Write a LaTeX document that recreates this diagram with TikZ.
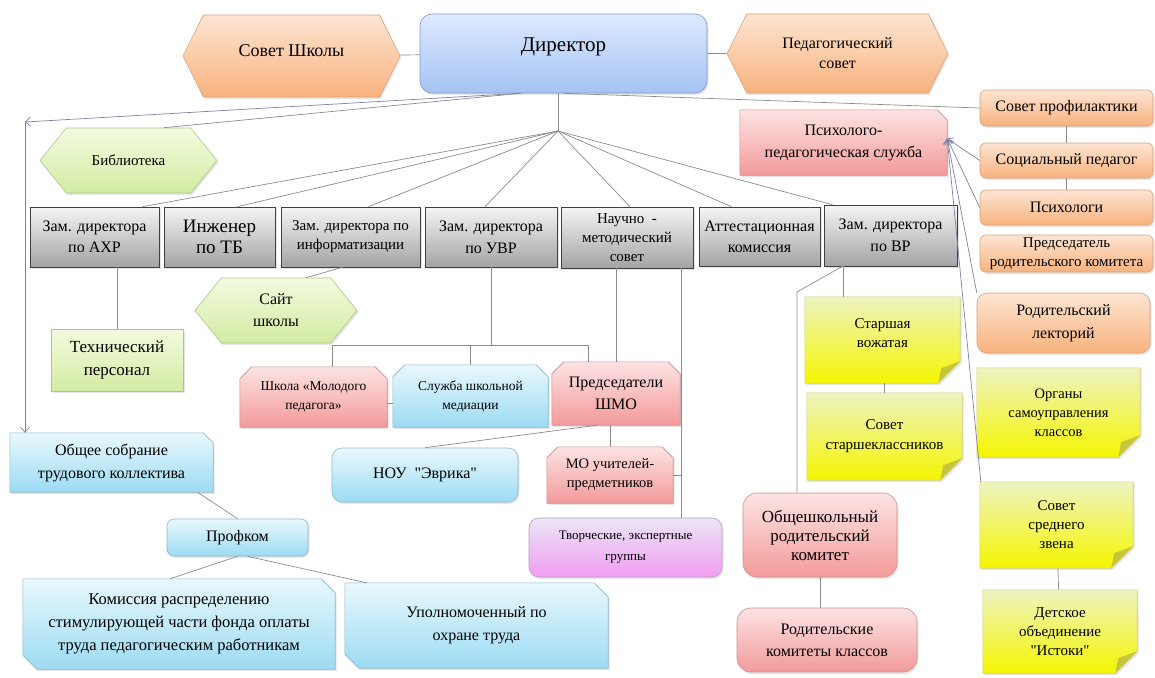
\documentclass[tikz,border=0pt]{standalone}
\usepackage{fontspec}
\setmainfont{Liberation Serif}[Ligatures=TeXOff]
\usetikzlibrary{arrows.meta,calc,shapes.symbols,shadows}
\pgfdeclarelayer{bg}
\pgfsetlayers{bg,main}
\definecolor{orTop}{HTML}{FDE5D2}\definecolor{orBot}{HTML}{F8B27E}\definecolor{orLine}{HTML}{D9A27A}
\definecolor{pkTop}{HTML}{FDE3E3}\definecolor{pkBot}{HTML}{F39A9A}\definecolor{pkLine}{HTML}{C99090}
\definecolor{blTop}{HTML}{E9F8FD}\definecolor{blBot}{HTML}{9CDBF3}\definecolor{blLine}{HTML}{8FB8C8}
\definecolor{grTop}{HTML}{F4FADF}\definecolor{grBot}{HTML}{D2ECA2}\definecolor{grLine}{HTML}{A9C78C}
\definecolor{ylTop}{HTML}{EEF4C2}\definecolor{ylBot}{HTML}{F5F500}\definecolor{ylLine}{HTML}{D2D27A}\definecolor{ylFold}{HTML}{C6C63A}
\definecolor{drTop}{HTML}{DDE9FE}\definecolor{drBot}{HTML}{A5C3F4}\definecolor{drLine}{HTML}{7C9BC6}
\definecolor{vtTop}{HTML}{EAE6F6}\definecolor{vtBot}{HTML}{F19DF2}\definecolor{vtLine}{HTML}{B49CC0}
\newcommand{\fsz}[2]{\fontsize{#1}{#2}\selectfont}
\newcommand{\upby}[2]{\raisebox{#1}[\height][\depth]{#2}}
\newcommand{\cutshape}[6]{\begin{pgfonlayer}{bg}\path[#6] ($(#1.north west)+(#2,0)$) -- ($(#1.north east)+(-#3,0)$) -- ($(#1.north east)+(0,#3)$) -- ($(#1.south east)+(0,-#4)$) -- ($(#1.south east)+(-#4,0)$) -- ($(#1.south west)+(#5,0)$) -- ($(#1.south west)+(0,-#5)$) -- ($(#1.north west)+(0,#2)$) -- cycle;\end{pgfonlayer}}
\newcommand{\foldcorner}[1]{\fill[ylFold] ($(#1.south east)+(0,-22)$) -- ($(#1.south east)+(-22,0)$) -- ($(#1.south east)+(-19,-15)$) -- cycle;}

\begin{document}
\begin{tikzpicture}[x=1pt,y=-1pt,
	line/.style={draw=black!45,line width=0.7pt},
	arr/.style={line,draw=blue!30!black!50,arrows={-Straight Barb[length=5pt,width=9pt]}},
	shad/.style={line width=0.6pt,drop shadow={opacity=0.2,shadow xshift=1.5pt,shadow yshift=-2pt}},
	bx/.style={shad,align=center,inner sep=1pt},
	txt/.style={rectangle,align=center,inner sep=1pt},
	greybox/.style={bx,rectangle,draw=black!75,top color=black!4,bottom color=black!36},
	dirbox/.style={bx,rectangle,rounded corners=12pt,draw=drLine,top color=drTop,bottom color=drBot},
	orhex/.style={bx,signal,signal to=east and west,signal pointer angle=127,draw=orLine,top color=orTop,bottom color=orBot},
	orbox/.style={bx,rectangle,rounded corners=6pt,draw=orLine,top color=orTop,bottom color=orBot},
	grhex/.style={bx,signal,signal to=east and west,signal pointer angle=102,draw=grLine,top color=grTop,bottom color=grBot},
	grbox/.style={bx,rectangle,draw=grLine,top color=grTop,bottom color=grBot},
	pkbox/.style={bx,rectangle,rounded corners=14pt,draw=pkLine,top color=pkTop,bottom color=pkBot},
	blbox/.style={bx,rectangle,rounded corners=10pt,draw=blLine,top color=blTop,bottom color=blBot},
	vtbox/.style={bx,rectangle,rounded corners=10pt,draw=vtLine,top color=vtTop,bottom color=vtBot},
	pkfill/.style={shad,draw=pkLine,top color=pkTop,bottom color=pkBot},
	blfill/.style={shad,draw=blLine,top color=blTop,bottom color=blBot},
	ylfill/.style={shad,draw=ylLine,top color=ylTop,bottom color=ylBot}]
	\useasboundingbox (0,0) rectangle (1155,677);

	\node[orhex,minimum width=217pt,minimum height=82pt,font=\fsz{18}{22}] (sovet) at (291.5,56) {\upby{5pt}{Совет Школы}};
	\node[dirbox,minimum width=287pt,minimum height=79pt,font=\fsz{21}{24}] (dir) at (563.5,53.5) {\upby{7pt}{Директор}};
	\node[orhex,minimum width=221pt,minimum height=79pt,font=\fsz{16}{20}] (pedsovet) at (837.5,53.5) {Педагогический\\совет};

	\node[grhex,minimum width=177pt,minimum height=65pt,font=\fsz{15}{18}] (biblio) at (128.5,160.5) {Библиотека};
	\node[txt,minimum width=207pt,minimum height=65pt,font=\fsz{16}{22}] (pps) at (843.5,142.5) {Психолого-\\педагогическая служба};
	\cutshape{pps}{0}{10}{0}{0}{pkfill}

	\node[orbox,minimum width=173pt,minimum height=36pt,font=\fsz{16}{19}] (profil) at (1066.5,108) {Совет профилактики};
	\node[orbox,minimum width=173pt,minimum height=35pt,font=\fsz{16}{19}] (socped) at (1066.5,160.5) {Социальный педагог};
	\node[orbox,minimum width=173pt,minimum height=35pt,font=\fsz{16}{19}] (psych) at (1066.5,207.5) {Психологи};
	\node[orbox,minimum width=173pt,minimum height=37pt,font=\fsz{15}{19}] (predrk) at (1066.5,253.5) {Председатель\\родительского комитета};
	\node[orbox,rounded corners=10pt,minimum width=173pt,minimum height=60pt,font=\fsz{16}{23}] (lekt) at (1063.5,323) {Родительский\\лекторий};

	\node[greybox,minimum width=129pt,minimum height=60pt,font=\fsz{16}{21}] (ahr) at (94.5,237) {Зам. директора\\по АХР};
	\node[greybox,minimum width=111pt,minimum height=60pt,font=\fsz{19}{21}] (ing) at (219.5,237) {Инженер\\по ТБ};
	\node[greybox,minimum width=139pt,minimum height=60pt,font=\fsz{15}{19}] (inform) at (350.5,237) {Зам. директора по\\информатизации};
	\node[greybox,minimum width=132pt,minimum height=60pt,font=\fsz{16}{22}] (uvr) at (491,237) {Зам. директора\\по УВР};
	\node[greybox,minimum width=132pt,minimum height=61pt,font=\fsz{15}{19}] (nms) at (627,237.5) {Научно \ -\\методический\\совет};
	\node[greybox,minimum width=121pt,minimum height=59pt,font=\fsz{16}{21}] (attest) at (759.5,236.5) {Аттестационная\\комиссия};
	\node[greybox,minimum width=133pt,minimum height=61pt,font=\fsz{16}{22}] (vr) at (890.5,235.5) {Зам. директора\\по ВР};

	\node[grhex,minimum width=162pt,minimum height=65pt,font=\fsz{16}{22}] (sait) at (276,310.5) {Сайт\\школы};
	\node[grbox,minimum width=132pt,minimum height=62pt,font=\fsz{17}{23}] (tech) at (117,360) {Технический\\персонал};

	\node[txt,minimum width=147pt,minimum height=60pt,font=\fsz{13.5}{19}] (shmp) at (313.5,397) {Школа «Молодого\\педагога»};
	\cutshape{shmp}{12}{12}{0}{0}{pkfill}
	\node[txt,minimum width=155pt,minimum height=62pt,font=\fsz{13.5}{19}] (media) at (470.5,396) {Служба школьной\\медиации};
	\cutshape{media}{12}{12}{0}{0}{blfill}
	\node[txt,minimum width=128pt,minimum height=63pt,font=\fsz{16}{22}] (predshmo) at (616,393.5) {Председатели\\ШМО};
	\cutshape{predshmo}{12}{12}{0}{0}{pkfill}
	\node[blbox,minimum width=186pt,minimum height=54pt,font=\fsz{16}{19}] (nou) at (425,475) {НОУ \ "Эврика"};
	\node[txt,minimum width=126pt,minimum height=56pt,font=\fsz{14.5}{19}] (mo) at (610,475) {МО учителей-\\предметников};
	\cutshape{mo}{11}{11}{0}{0}{pkfill}
	\node[vtbox,minimum width=193pt,minimum height=59pt,font=\fsz{13}{21}] (tvor) at (625.5,547.5) {Творческие, экспертные\\группы};

	\node[txt,minimum width=203pt,minimum height=59pt,font=\fsz{16}{23}] (obsch) at (111.5,462.5) {Общее собрание\\трудового коллектива};
	\cutshape{obsch}{0}{10}{0}{0}{blfill}
	\node[blbox,rounded corners=7pt,minimum width=141pt,minimum height=37pt,font=\fsz{16}{19}] (profkom) at (237.5,537.5) {Профком};
	\node[txt,minimum width=312pt,minimum height=90pt,font=\fsz{16.5}{23}] (komis) at (179,624) {Комиссия распределению\\стимулирующей части фонда оплаты\\труда педагогическим работникам};
	\cutshape{komis}{0}{14}{0}{14}{blfill}
	\node[txt,minimum width=263pt,minimum height=85pt,font=\fsz{16}{23}] (upoln) at (476.5,625.5) {Уполномоченный по\\охране труда};
	\cutshape{upoln}{0}{14}{0}{14}{blfill}

	\node[txt,minimum width=155pt,minimum height=86pt,font=\fsz{15}{19}] (stvozh) at (882.5,340) {Старшая\\вожатая\\[-6pt]};
	\cutshape{stvozh}{0}{0}{22}{0}{ylfill}
	\node[txt,minimum width=155pt,minimum height=87pt,font=\fsz{15}{20}] (sovst) at (884.5,436.5) {Совет\\старшеклассников};
	\cutshape{sovst}{0}{0}{22}{0}{ylfill}
	\node[pkbox,minimum width=154pt,minimum height=84pt,font=\fsz{17}{19}] (obshrk) at (820,535) {Общешкольный\\родительский\\комитет};
	\node[pkbox,minimum width=180pt,minimum height=64pt,font=\fsz{16}{22}] (rodk) at (827,640) {Родительские\\комитеты классов};
	\node[txt,minimum width=163pt,minimum height=89pt,font=\fsz{14.5}{19}] (organy) at (1058.5,412.5) {Органы\\самоуправления\\классов};
	\cutshape{organy}{0}{0}{22}{0}{ylfill}
	\node[txt,minimum width=153pt,minimum height=86pt,font=\fsz{15}{19}] (sovsr) at (1056.5,525) {Совет\\среднего\\звена};
	\cutshape{sovsr}{0}{0}{22}{0}{ylfill}
	\node[txt,minimum width=154pt,minimum height=83pt,font=\fsz{15}{19}] (detsk) at (1060,631.5) {Детское\\объединение\\"Истоки"};
	\cutshape{detsk}{0}{0}{22}{0}{ylfill}

	\foldcorner{stvozh}
	\foldcorner{sovst}
	\foldcorner{organy}
	\foldcorner{sovsr}
	\foldcorner{detsk}

	\coordinate (hub) at (558,131);
	\coordinate (lcorner) at (25,122);
	\coordinate (brl) at (332,345);
	\coordinate (brr) at (588,345);
	\coordinate (nmsr) at (681,268);
	\coordinate (vrs) at (843,266);
	\coordinate (vrbend) at (797,292);

	\draw[line] (sovet) to (dir);
	\draw[line] (dir) to (pedsovet);
	\draw[line] (hub |- dir.south) to (hub);
	\draw[line] (dir.south) to (profil.west);
	\draw[arr] ($(dir.south)+(-43,0)$) to (lcorner);
	\draw[arr] (lcorner) to (lcorner |- obsch.north);
	\draw[line] ($(dir.south)+(-43,0)$) to ($(biblio.north east)+(-27,0)$);

	\draw[line] (hub) to ($(ahr.north)+(48,0)$);
	\draw[line] (hub) to ($(ing.north)+(18,0)$);
	\draw[line] (hub) to ($(inform.north)+(18,0)$);
	\draw[line] (hub) to ($(uvr.north)+(-6,0)$);
	\draw[line] (hub) to ($(nms.north)+(3,0)$);
	\draw[line] (hub) to ($(attest.north)+(-28,0)$);
	\draw[line] (hub) to ($(vr.north)+(-58,0)$);

	\draw[line] (profil) to (socped);
	\draw[line] (socped) to (psych);
	\draw[arr] (socped.west) to ($(pps.east)+(0,-4)$);
	\draw[arr] (psych.west) to ($(pps.east)+(0,-4)$);
	\draw[arr] (lekt.north west) to ($(pps.east)+(0,-4)$);
	\draw[arr] ($(sovsr.north west)+(1,0)$) to ($(pps.east)+(0,-4)$);
	\draw[line] ($(pps.south)+(20,0)$) to ($(pps.south)+(20,0)$ |- vr.north);

	\draw[line] (tech.north |- ahr.south) to (tech.north);
	\draw[line] ($(inform.south)+(-8,0)$) to ($(sait.north east)+(-25,0)$);

	\draw[line] (uvr.south) to (uvr.south |- brl);
	\draw[line] (brl |- shmp.north) to (brl) to (brr) to (brr |- predshmo.north);
	\draw[line] (media.north) to (media.north |- brl);
	\draw[line] ($(shmp.east)+(0,6)$) to ($(shmp.east -| media.west)+(0,6)$);
	\draw[line] (predshmo.north |- nms.south) to (predshmo.north);
	\draw[line] (nmsr) to (nmsr |- tvor.north);
	\draw[line] (mo.east) to (mo.east -| nmsr);
	\draw[line] (mo.north |- predshmo.south) to (mo.north);
	\draw[line] ($(predshmo.south)+(-19,0)$) to (nou.north);

	\draw[line] ($(obsch.south)+(-30,0)$) to ($(obsch.south)+(-30,0)$ |- komis.north);
	\draw[line] ($(obsch.south)+(86,0)$) to (profkom.north);
	\draw[line] (profkom.south) to ($(komis.north)+(-9,0)$);
	\draw[line] ($(profkom.south)+(10,0)$) to ($(upoln.north)+(-110,0)$);

	\draw[line] (vrs) to (vrs |- stvozh.north);
	\draw[line] (sovst.north |- stvozh.south) to (sovst.north);
	\draw[line] (vrs) to (vrbend) to (vrbend |- obshrk.north);
	\draw[line] (obshrk.south) to (obshrk.south |- rodk.north);
	\draw[line] (sovsr) to (detsk);
\end{tikzpicture}
\end{document}
